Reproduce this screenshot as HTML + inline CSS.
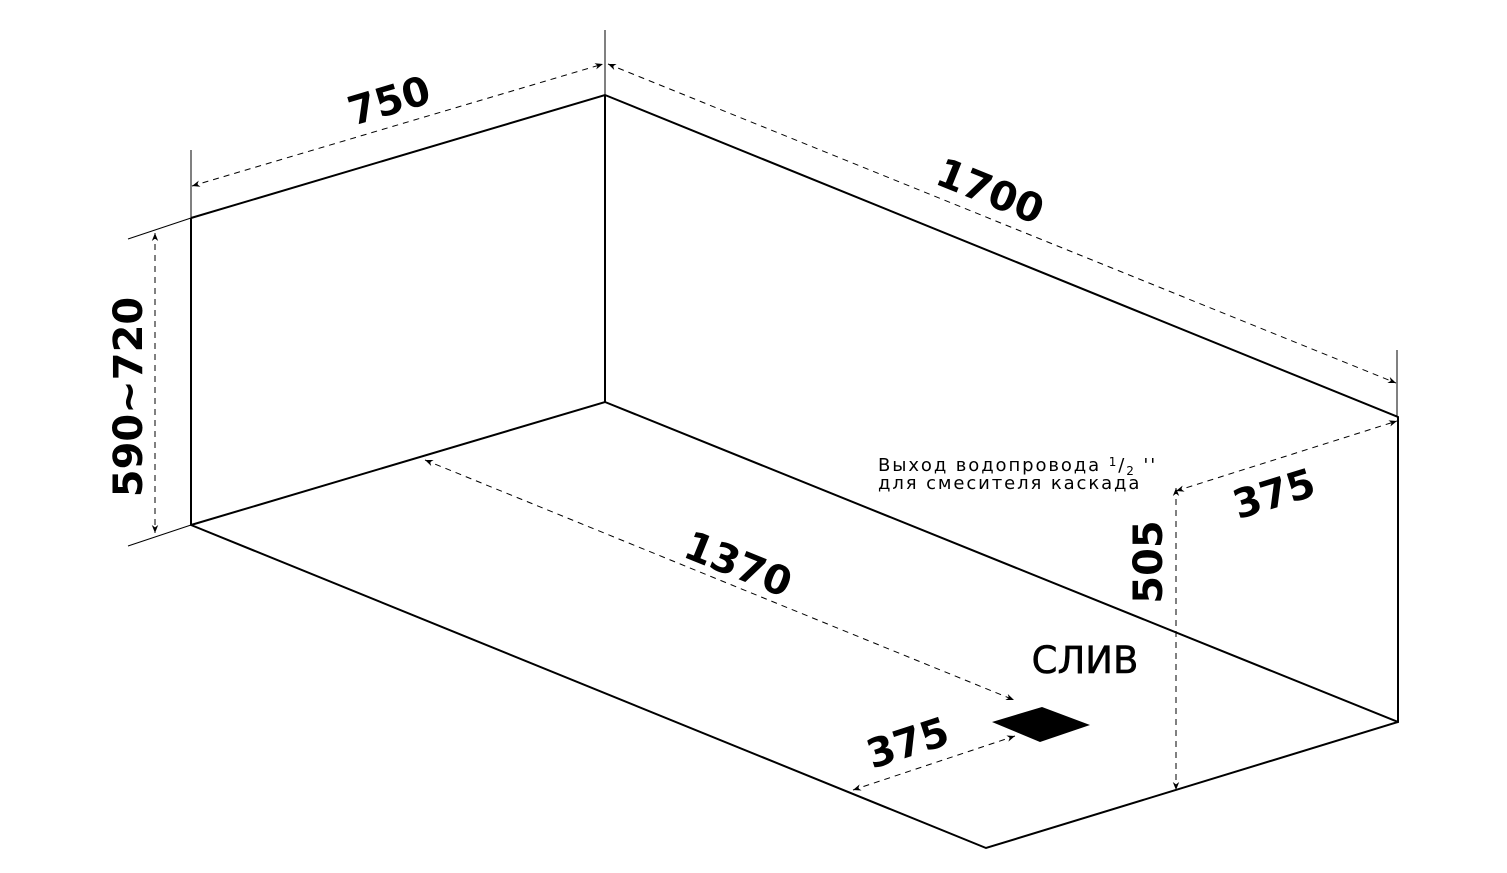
<!DOCTYPE html>
<html><head><meta charset="utf-8"><style>
html,body{margin:0;padding:0;background:#fff;}
svg{display:block;}
.b{font-family:"DejaVu Sans","Liberation Sans",sans-serif;font-weight:bold;font-size:40px;fill:#000;}
</style></head><body>
<svg width="1507" height="873" viewBox="0 0 1507 873" xmlns="http://www.w3.org/2000/svg">
<defs>
<marker id="a" viewBox="0 0 10 10" refX="10" refY="5" markerWidth="8" markerHeight="8" orient="auto-start-reverse"><path d="M0,1 L10,5 L0,9 L3,5 z" fill="#000"/></marker>
</defs>
<g stroke="#000" stroke-width="2" fill="none">
<polyline points="191,218 605,95 1398,417 1398,722 986,848 191,525 191,218"/>
<line x1="605" y1="95" x2="605" y2="402"/>
<polyline points="191,525 605,402 1398,722"/>
</g>
<g stroke="#000" stroke-width="1">
<line x1="191" y1="150" x2="191" y2="218"/>
<line x1="605" y1="30" x2="605" y2="95"/>
<line x1="1397" y1="350" x2="1397" y2="417"/>
<line x1="128" y1="239" x2="191" y2="218"/>
<line x1="128" y1="546" x2="191" y2="525"/>
</g>
<g stroke="#000" stroke-width="1" stroke-dasharray="6,5" marker-start="url(#a)" marker-end="url(#a)" fill="none">
<line x1="192" y1="186" x2="603" y2="64"/>
<line x1="608" y1="64" x2="1396" y2="383"/>
<line x1="155" y1="233" x2="155" y2="533"/>
<line x1="425" y1="460" x2="1014" y2="700"/>
<line x1="853" y1="790" x2="1015" y2="736"/>
<line x1="1176" y1="491" x2="1397" y2="421"/>
<line x1="1176" y1="488" x2="1176" y2="790"/>
</g>
<polygon points="992,722 1042,707 1090,725 1040,742" fill="#000"/>
<text class="b" transform="translate(393,114) rotate(-16.5)" text-anchor="middle">750</text>
<text class="b" transform="translate(985,204) rotate(22)" text-anchor="middle">1700</text>
<text class="b" transform="translate(142,397) rotate(-90)" text-anchor="middle">590~720</text>
<text class="b" transform="translate(733,577) rotate(22)" text-anchor="middle">1370</text>
<text class="b" transform="translate(912,756) rotate(-18)" text-anchor="middle">375</text>
<text class="b" transform="translate(1278,507) rotate(-17)" text-anchor="middle">375</text>
<text class="b" transform="translate(1162,562) rotate(-90)" text-anchor="middle">505</text>
<text x="1085" y="673" text-anchor="middle" font-family="DejaVu Sans,Liberation Sans,sans-serif" font-size="37" fill="#000" stroke="#000" stroke-width="0.6">СЛИВ</text>
<text x="878" y="471" font-family="DejaVu Sans,Liberation Sans,sans-serif" font-size="18" fill="#000" letter-spacing="1.9">Выход водопровода <tspan font-size="12" dy="-5">1</tspan><tspan dy="5">/</tspan><tspan font-size="12" dy="4">2</tspan><tspan dy="-4"> ''</tspan></text>
<text x="878" y="489" font-family="DejaVu Sans,Liberation Sans,sans-serif" font-size="18" fill="#000" letter-spacing="1.9">для смесителя каскада</text>
</svg>
</body></html>
